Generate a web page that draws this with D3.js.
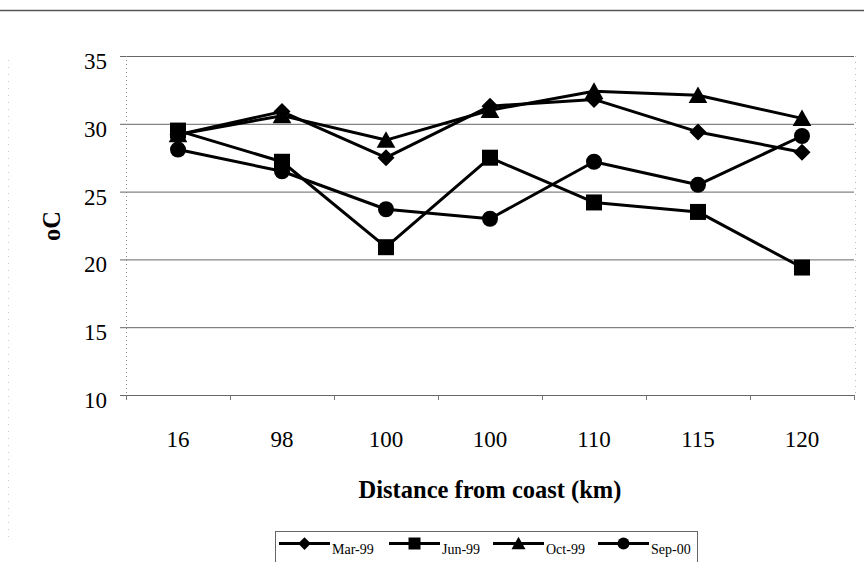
<!DOCTYPE html>
<html><head><meta charset="utf-8">
<script src="https://cdn.jsdelivr.net/npm/d3@7"></script>
<style>body{margin:0;background:#fff}svg{display:block}</style>
</head><body>
<svg id="c" width="864" height="562"></svg>
<script>
const categories = ["16","98","100","100 ","110","115","120"];
const mar99 = [29.2, 30.9, 27.5, 31.3, 31.8, 29.4, 27.9];
const jun99 = [29.5, 27.2, 20.9, 27.5, 24.2, 23.5, 19.4];
const oct99 = [29.2, 30.6, 28.8, 31.0, 32.4, 32.1, 30.4];
const sep00 = [28.1, 26.5, 23.7, 23.0, 27.2, 25.5, 29.1];
const seriesNames = ["Mar-99","Jun-99","Oct-99","Sep-00"];
const yTicks = [10,15,20,25,30,35];

// custom marker shapes (r = half size)
const shapes = {
  diamond: r => `M0,${-r}L${r},0L0,${r}L${-r},0Z`,
  square: r => `M${-r},${-r}H${r}V${r}H${-r}Z`,
  triangle: r => `M0,${-r * 1.05}L${r * 1.1},${r * 0.9}L${-r * 1.1},${r * 0.9}Z`,
  circle: r => `M${r},0A${r},${r} 0 1,1 ${-r},0A${r},${r} 0 1,1 ${r},0Z`
};
const series = [
  {name: seriesNames[0], values: mar99, shape: shapes.diamond, r: 8.5},
  {name: seriesNames[1], values: jun99, shape: shapes.square, r: 8},
  {name: seriesNames[2], values: oct99, shape: shapes.triangle, r: 8.5},
  {name: seriesNames[3], values: sep00, shape: shapes.circle, r: 8}
];

const svg = d3.select("#c");
const L = 126, R = 854, T = 56, B = 395;
const x = d3.scaleBand().domain(categories).range([L, R]);
const y = d3.scaleLinear().domain([10, 35]).range([B, T]);

// top border line
svg.append("line").attr("x1",0).attr("x2",864).attr("y1",10.5).attr("y2",10.5)
  .attr("stroke","#555").attr("stroke-width",1.5);
// faint left edge
svg.append("line").attr("x1",8.5).attr("x2",8.5).attr("y1",60).attr("y2",540)
  .attr("stroke","#ccc").attr("stroke-dasharray","1,6");

// gridlines
svg.append("g").selectAll("line").data(yTicks).join("line")
  .attr("x1", L - 6).attr("x2", R)
  .attr("y1", d => y(d) + 0.5).attr("y2", d => y(d) + 0.5)
  .attr("stroke", "#666").attr("stroke-width", 1);

// left axis (dotted)
svg.append("line").attr("x1", L + 0.5).attr("x2", L + 0.5).attr("y1", T).attr("y2", B)
  .attr("stroke", "#888").attr("stroke-dasharray", "1,3");
// right edge (faint dotted)
svg.append("line").attr("x1", R + 1.5).attr("x2", R + 1.5).attr("y1", T).attr("y2", B)
  .attr("stroke", "#bbb").attr("stroke-dasharray", "1,5");

// y tick labels
svg.append("g").selectAll("text").data(yTicks).join("text")
  .attr("x", L - 19).attr("y", d => y(d) + 13)
  .attr("text-anchor", "end")
  .attr("font-family", "Liberation Serif").attr("font-size", 23)
  .text(d => d);

// x ticks between categories
const bounds = d3.range(categories.length + 1).map(i => L + i * x.step());
svg.append("g").selectAll("line").data(bounds).join("line")
  .attr("x1", d => d + 0.5).attr("x2", d => d + 0.5)
  .attr("y1", B).attr("y2", B + 5)
  .attr("stroke", "#777").attr("stroke-width", 1);

// x tick labels
svg.append("g").selectAll("text").data(categories).join("text")
  .attr("x", d => x(d) + x.bandwidth() / 2).attr("y", 447)
  .attr("text-anchor", "middle")
  .attr("font-family", "Liberation Serif").attr("font-size", 23)
  .text(d => d.trim());

// axis titles
svg.append("text").attr("x", 490).attr("y", 498).attr("text-anchor", "middle")
  .attr("font-family", "Liberation Serif").attr("font-size", 24.5).attr("font-weight", "bold")
  .text("Distance from coast (km)");
svg.append("text").attr("transform", "translate(60,226) rotate(-90)").attr("text-anchor", "middle")
  .attr("font-family", "Liberation Serif").attr("font-size", 24.5).attr("font-weight", "bold")
  .text("oC");

// lines
const cx = i => x(categories[i]) + x.bandwidth() / 2;
const line = d3.line().x((d, i) => cx(i)).y(d => y(d));
const g = svg.append("g");
series.forEach(s => {
  g.append("path").attr("d", line(s.values)).attr("fill", "none")
    .attr("stroke", "#000").attr("stroke-width", 3).attr("stroke-linejoin", "round");
});
series.forEach(s => {
  g.append("g").selectAll("path").data(s.values).join("path")
    .attr("transform", (d, i) => `translate(${cx(i)},${y(d)})`)
    .attr("d", s.shape(s.r)).attr("fill", "#000");
});

// legend
const lg = svg.append("g");
lg.append("rect").attr("x", 275.5).attr("y", 531.5).attr("width", 422).attr("height", 32)
  .attr("fill", "#fff").attr("stroke", "#666").attr("stroke-width", 1);
const lx = [279, 389, 493, 598];
series.forEach((s, i) => {
  const gx = lx[i];
  lg.append("line").attr("x1", gx).attr("x2", gx + 51).attr("y1", 543.5).attr("y2", 543.5)
    .attr("stroke", "#000").attr("stroke-width", 3);
  lg.append("path").attr("transform", `translate(${gx + 25.5},543.5)`)
    .attr("d", s.shape(s.r * 0.75)).attr("fill", "#000");
  lg.append("text").attr("x", gx + 53).attr("y", 554)
    .attr("font-family", "Liberation Serif").attr("font-size", 14)
    .text(s.name);
});
</script>
</body></html>
